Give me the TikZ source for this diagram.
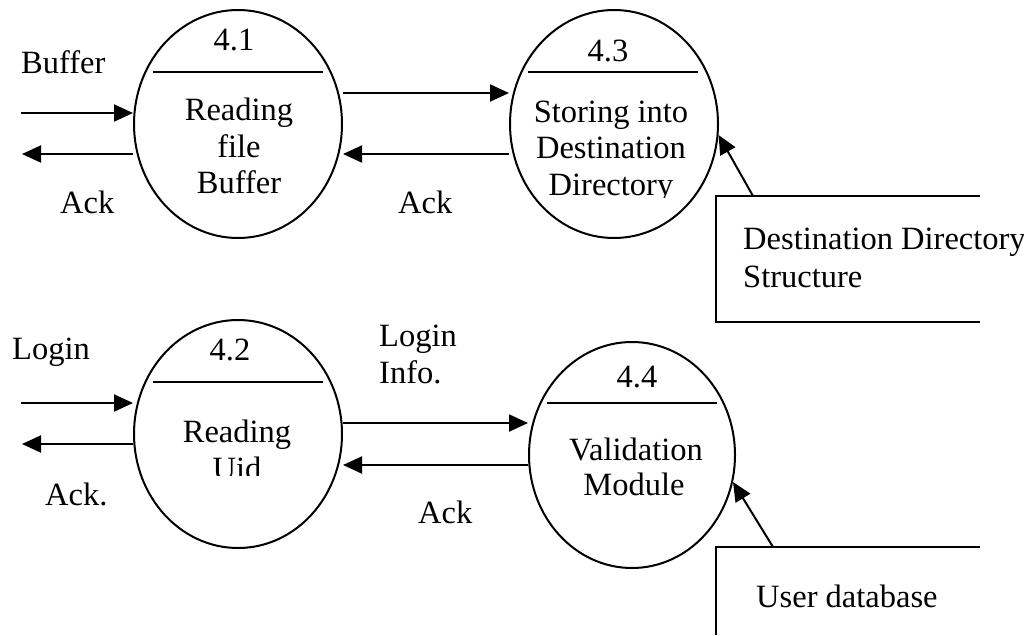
\documentclass[tikz,border=0pt]{standalone}
\usepackage{fontspec}
\setmainfont{Liberation Serif}
\usetikzlibrary{arrows.meta,shapes.geometric}
\begin{document}
\begin{tikzpicture}[x=1pt,y=-1pt,
  proc/.style={draw, ellipse, line width=2pt, inner sep=0pt},
  divider/.style={line width=2pt},
  flow/.style={line width=2pt, -{Triangle[length=19pt,width=17pt]}},
  store/.style={line width=2pt},
  txt/.style={inner sep=0pt, font=\fontsize{32.5}{37}\selectfont, anchor=base},
  lbl/.style={txt, anchor=base west}]
\useasboundingbox (0,0) rectangle (1024,635);

% processes
\node[proc, minimum width=208pt, minimum height=228pt] (p41) at (238,124) {};
\node[proc, minimum width=208pt, minimum height=228pt] (p43) at (614,124) {};
\node[proc, minimum width=208pt, minimum height=228pt] (p42) at (238,434) {};
\node[proc, minimum width=206pt, minimum height=226pt] (p44) at (632,455) {};

% number bars
\draw[divider] (153,72) -- (323,72);
\draw[divider] (528,72) -- (698,72);
\draw[divider] (153,382) -- (323,382);
\draw[divider] (547,403) -- (717,403);

% process texts
\node[txt] (n41) at (234,50) {4.1};
\node[txt] (a41) at (239,120) {Reading};
\node[txt] (b41) at (239,157) {file};
\node[txt] (c41) at (239,193) {Buffer};

\node[txt] (n43) at (608,61) {4.3};
\node[txt] (a43) at (611,122) {Storing into};
\node[txt] (b43) at (611,158) {Destination};
\begin{scope}
  \clip (500,150) rectangle (720,197);
  \node[txt] (c43) at (611,195) {Directory};
\end{scope}

\node[txt] (n42) at (230,360) {4.2};
\node[txt] (a42) at (237,442) {Reading};
\begin{scope}
  \clip (150,445) rectangle (330,475);
  \node[txt] (b42) at (237,479) {Uid};
\end{scope}

\node[txt] (n44) at (637,387) {4.4};
\node[txt] (a44) at (636,460) {Validation};
\node[txt] (b44) at (634,495) {Module};

% data stores
\draw[store] (980,196) -- (716,196) -- (716,322) -- (980,322);
\node[lbl] (s1a) at (743,249) {Destination Directory};
\node[lbl] (s1b) at (743,287) {Structure};
\coordinate (s1src) at (753,196);

\draw[store] (980,547) -- (716,547) -- (716,635);
\node[lbl] (s2a) at (756,607) {User database};
\coordinate (s2src) at (773,547);

% free ends of the external flows
\coordinate (in41) at (21,113);
\coordinate (out41) at (22,154);
\coordinate (in42) at (21,403);
\coordinate (out42) at (22,444);
\coordinate (y93) at (0,93);
\coordinate (y154) at (0,154);
\coordinate (y423) at (0,423);
\coordinate (y465) at (0,465);

% flows
\draw[flow] (in41) -- (p41.west |- in41);
\draw[flow] (p41.west |- out41) -- (out41);
\draw[flow] (p41.east |- y93) -- (p43.west |- y93);
\draw[flow] (p43.west |- y154) -- (p41.east |- y154);
\draw[flow] (s1src) -- (p43.-6);

\draw[flow] (in42) -- (p42.west |- in42);
\draw[flow] (p42.west |- out42) -- (out42);
\draw[flow] (p42.east |- y423) -- (p44.west |- y423);
\draw[flow] (p44.west |- y465) -- (p42.east |- y465);
\draw[flow] (s2src) -- (p44.-15);

% flow labels
\node[lbl] (lbuf) at (21,73) {Buffer};
\node[lbl] (lack1) at (60,213) {Ack};
\node[lbl] (lack2) at (398,213) {Ack};
\node[lbl] (llog) at (12,359) {Login};
\node[lbl] (lack3) at (45,505) {Ack.};
\node[lbl] (linfoa) at (379,346) {Login};
\node[lbl] (linfob) at (379,383) {Info.};
\node[lbl] (lack4) at (418,523) {Ack};
\end{tikzpicture}
\end{document}
